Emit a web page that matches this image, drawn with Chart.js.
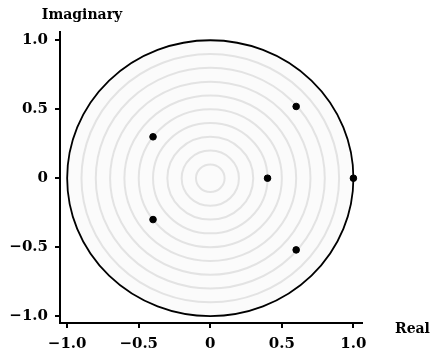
<!DOCTYPE html>
<html>
<head>
<meta charset="utf-8">
<script src="https://cdn.jsdelivr.net/npm/chart.js@4/dist/chart.umd.min.js"></script>
<style>
html, body { margin: 0; padding: 0; background: #fff; }
</style>
</head>
<body>
<canvas id="canvas" width="433" height="360"></canvas>
<script>
// poles / zeros in the complex plane
var realParts = [1.0, 0.4, 0.6, 0.6, -0.4, -0.4];
var imagParts = [0.0, 0.0, 0.52, -0.52, 0.3, -0.3];

// grey rings and the unit circle
var ringRadii = [0.1, 0.2, 0.3, 0.4, 0.5, 0.6, 0.7, 0.8, 0.9];
var unitRadius = 1.0;

var tickValues = [-1, -0.5, 0, 0.5, 1];
var tickLabels = ['\u22121.0', '\u22120.5', '0', '0.5', '1.0'];

var xName = 'Real';
var yName = 'Imaginary';

var fontFamily = '"DejaVu Serif", serif';

var points = [];
for (var i = 0; i < realParts.length; i++) {
    points.push({x: realParts[i], y: imagParts[i]});
}

function setTicks(scale) {
    scale.ticks = tickValues.map(function (v) { return {value: v}; });
}
function tickText(value) {
    var idx = tickValues.indexOf(value);
    return idx >= 0 ? tickLabels[idx] : '';
}

var circlesPlugin = {
    id: 'circles',
    beforeDatasetsDraw: function (chart) {
        var ctx = chart.ctx;
        var xs = chart.scales.x, ys = chart.scales.y;
        var cx = xs.getPixelForValue(0), cy = ys.getPixelForValue(0);
        function ell(r) {
            var rx = xs.getPixelForValue(r) - cx;
            var ry = cy - ys.getPixelForValue(r);
            ctx.beginPath();
            ctx.ellipse(cx, cy, rx, ry, 0, 0, Math.PI * 2);
        }
        ctx.save();
        ell(unitRadius);
        ctx.fillStyle = '#fbfbfb';
        ctx.fill();
        ctx.strokeStyle = '#e3e3e3';
        ctx.lineWidth = 2;
        ringRadii.forEach(function (r) {
            ell(r);
            ctx.stroke();
        });
        ell(unitRadius);
        ctx.strokeStyle = '#000';
        ctx.lineWidth = 1.8;
        ctx.stroke();
        ctx.restore();
    }
};

var axisNamesPlugin = {
    id: 'axisNames',
    afterDraw: function (chart) {
        var ctx = chart.ctx;
        var area = chart.chartArea;
        ctx.save();
        ctx.fillStyle = '#000';
        ctx.font = 'bold 14px ' + fontFamily;
        ctx.textBaseline = 'middle';
        ctx.textAlign = 'center';
        ctx.fillText(yName, area.left + 22, 15);
        ctx.textAlign = 'left';
        ctx.fillText(xName, area.right + 33, area.bottom + 6);
        ctx.restore();
    }
};

function axisOptions(pos) {
    return {
        type: 'linear',
        position: pos,
        min: -1.05,
        max: 1.06,
        afterBuildTicks: setTicks,
        afterFit: function (scale) {
            if (pos === 'left') scale.width = 60;
            else scale.height = 37;
        },
        border: {display: true, color: '#000', width: 2},
        grid: {
            display: true,
            drawOnChartArea: false,
            drawTicks: true,
            tickLength: 5,
            color: '#000',
            lineWidth: 2
        },
        ticks: {
            color: '#000',
            padding: 7,
            font: {family: fontFamily, size: 15, weight: 'bold'},
            callback: tickText,
            autoSkip: false,
            maxRotation: 0
        }
    };
}

var config = {
    type: 'scatter',
    data: {
        datasets: [{
            label: 'roots',
            data: points,
            backgroundColor: '#000',
            borderColor: '#000',
            pointRadius: 3.3,
            pointHoverRadius: 3.3
        }]
    },
    options: {
        responsive: false,
        animation: false,
        devicePixelRatio: 1,
        layout: {padding: {top: 32, right: 71, left: 0, bottom: 0}},
        plugins: {
            legend: {display: false},
            tooltip: {enabled: false}
        },
        scales: {
            x: axisOptions('bottom'),
            y: axisOptions('left')
        }
    },
    plugins: [circlesPlugin, axisNamesPlugin]
};

window.onload = function () {
    var ctx = document.getElementById('canvas').getContext('2d');
    window.myChart = new Chart(ctx, config);
};
</script>
</body>
</html>
